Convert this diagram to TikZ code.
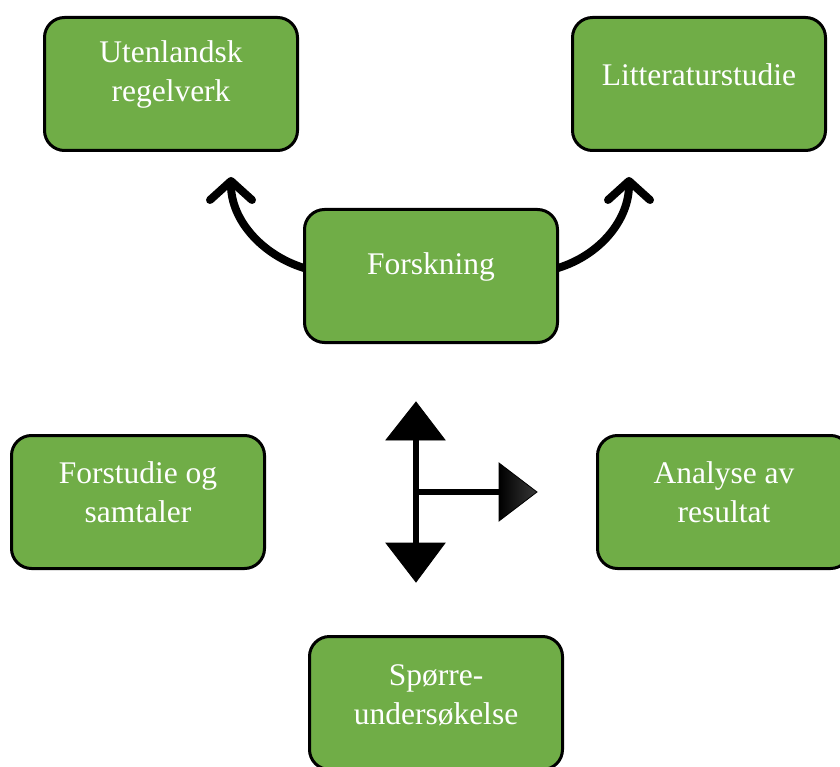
\documentclass[tikz,border=0pt]{standalone}
\usepackage{fontspec}
\setmainfont{Liberation Serif}
\usetikzlibrary{arrows.meta}
\definecolor{boxgreen}{HTML}{70AD47}
\begin{document}
\begin{tikzpicture}[x=1pt,y=-1pt,
  box/.style={draw=black, line width=3pt, fill=boxgreen, rounded corners=20pt,
    minimum width=253pt, minimum height=133pt, inner sep=0pt},
  lbl/.style={text=white, font=\fontsize{31.5}{39}\selectfont, align=center, inner sep=0pt},
  curvearrow/.style={line width=8pt, -{Straight Barb[length=19pt,width=42pt,round]}},
  shaft/.style={line width=6pt},
  head/.style={fill=black, draw=black, line width=0.8pt, line join=miter}]
\clip (0,0) rectangle (840,767);
\useasboundingbox (0,0) rectangle (840,767);

% coordinates
\coordinate (tipL) at (231,177);
\coordinate (tipR) at (629,177);
\coordinate (hub) at (416,492);
\coordinate (vtop) at (416,440);
\coordinate (vbot) at (416,543);
\coordinate (hend) at (499,492);

% curved arrows (drawn under boxes)
\draw[curvearrow] (304,268) .. controls (262,255) and (231,220) .. (tipL);
\draw[curvearrow] (558,268) .. controls (600,255) and (629,220) .. (tipR);

% boxes
\node[box] (U) at (171,84) {};
\node[box] (L) at (699,84) {};
\node[box] (F) at (431,276) {};
\node[box] (Fs) at (138,502) {};
\node[box] (A) at (724,502) {};
\node[box] (S) at (436,703) {};

% labels
\node[lbl] (Ut) at ([yshift=10pt]U.center) {Utenlandsk\\regelverk};
\node[lbl] (Lt) at ([yshift=9pt]L.center) {Litteraturstudie};
\node[lbl] (Ft) at ([yshift=9pt]F.center) {Forskning};
\node[lbl] (Fst) at ([yshift=10pt]Fs.center) {Forstudie og\\samtaler};
\node[lbl] (At) at ([yshift=10pt]A.center) {Analyse av\\resultat};
\node[lbl] (St) at ([yshift=8pt]S.center) {Spørre-\\undersøkelse};

% central arrow
\draw[shaft] (vtop) -- (vbot);
\draw[shaft] (hub) -- (hend);
\filldraw[head] (386,440) -- (445,440) -- (416,402) -- cycle;
\filldraw[head] (386,543) -- (445,543) -- (416,582) -- cycle;
\shade[left color=black, right color=black!78] (499,463) -- (499,521) -- (537,492) -- cycle;
\draw[line width=0.8pt, line join=miter] (499,463) -- (499,521) -- (537,492) -- cycle;
\end{tikzpicture}
\end{document}
